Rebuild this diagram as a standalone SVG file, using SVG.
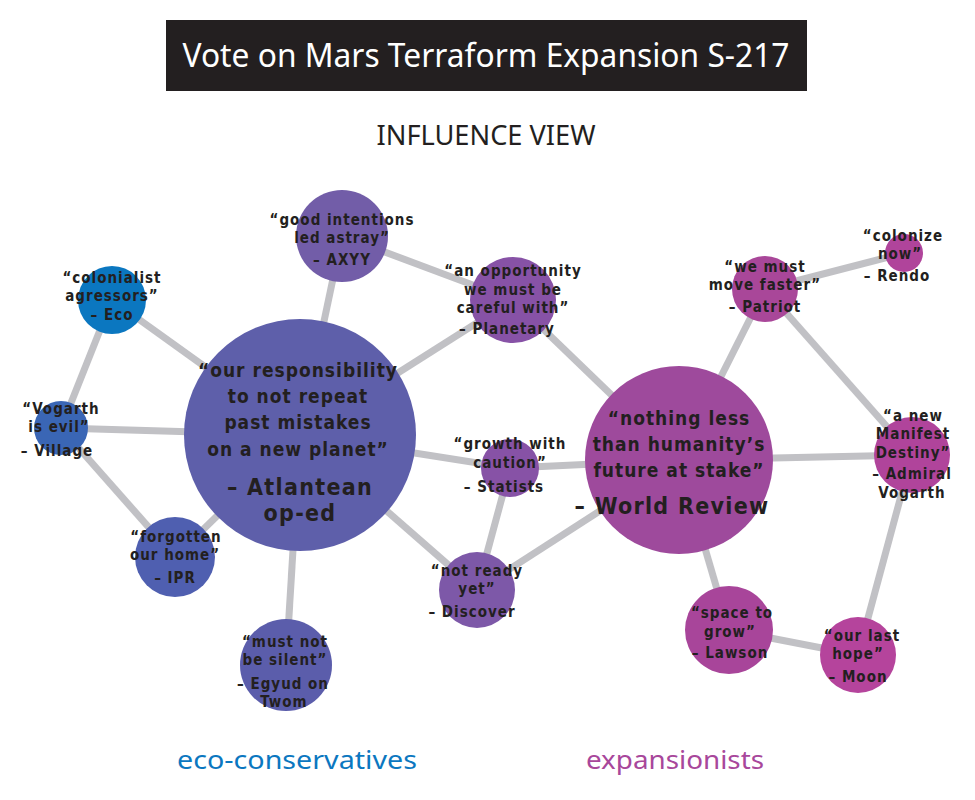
<svg xmlns="http://www.w3.org/2000/svg" width="975" height="800" viewBox="0 0 975 800">
<style>
.edge{stroke:#c1c1c5;stroke-width:7;fill:none}
.t{font-family:"DejaVu Sans Condensed","DejaVu Sans",sans-serif;font-weight:bold;fill:#231f20;text-anchor:middle}
.s{font-size:15px;letter-spacing:1px}
.m{font-size:19px;letter-spacing:1px}
.l{font-size:23px;letter-spacing:1.3px}
</style>
<rect width="975" height="800" fill="#ffffff"/>
<g id="title">
<rect x="166" y="20" width="641" height="71" fill="#231f20"/>
<text x="486" y="67" font-family="'Noto Sans',sans-serif" font-size="32" fill="#ffffff" text-anchor="middle" textLength="607" lengthAdjust="spacingAndGlyphs">Vote on Mars Terraform Expansion S-217</text>
</g>
<g id="subtitle">
<text x="486" y="145" font-family="'Noto Sans',sans-serif" font-size="27" fill="#231f20" text-anchor="middle" textLength="219" lengthAdjust="spacingAndGlyphs">INFLUENCE VIEW</text>
</g>
<g id="connectors">
<line class="edge" x1="112" y1="300" x2="300" y2="435"/>
<line class="edge" x1="112" y1="300" x2="61" y2="428"/>
<line class="edge" x1="61" y1="428" x2="300" y2="435"/>
<line class="edge" x1="61" y1="428" x2="175" y2="557"/>
<line class="edge" x1="175" y1="557" x2="300" y2="435"/>
<line class="edge" x1="300" y1="435" x2="342" y2="236"/>
<line class="edge" x1="300" y1="435" x2="286" y2="665"/>
<line class="edge" x1="300" y1="435" x2="513" y2="300"/>
<line class="edge" x1="300" y1="435" x2="510" y2="468"/>
<line class="edge" x1="300" y1="435" x2="477" y2="590"/>
<line class="edge" x1="342" y1="236" x2="513" y2="300"/>
<line class="edge" x1="513" y1="300" x2="679" y2="460"/>
<line class="edge" x1="510" y1="468" x2="679" y2="460"/>
<line class="edge" x1="510" y1="468" x2="477" y2="590"/>
<line class="edge" x1="477" y1="590" x2="679" y2="460"/>
<line class="edge" x1="679" y1="460" x2="765" y2="289"/>
<line class="edge" x1="679" y1="460" x2="912" y2="455"/>
<line class="edge" x1="679" y1="460" x2="729" y2="630"/>
<line class="edge" x1="765" y1="289" x2="904" y2="253"/>
<line class="edge" x1="765" y1="289" x2="912" y2="455"/>
<line class="edge" x1="912" y1="455" x2="858" y2="655"/>
<line class="edge" x1="729" y1="630" x2="858" y2="655"/>
</g>
<g id="eco">
<circle cx="112" cy="300" r="34" fill="#0b77c0"/>
<text class="t s" x="112" y="283">“colonialist</text>
<text class="t s" x="112" y="301">agressors”</text>
<text class="t s" x="112" y="320">– Eco</text>
</g>
<g id="village">
<circle cx="61" cy="428" r="27" fill="#3a66b5"/>
<text class="t s" x="61" y="414">“Vogarth</text>
<text class="t s" x="59" y="432">is evil”</text>
<text class="t s" x="57" y="456">– Village</text>
</g>
<g id="ipr">
<circle cx="175" cy="557" r="40" fill="#4f5fb0"/>
<text class="t s" x="176" y="542">“forgotten</text>
<text class="t s" x="175" y="560">our home”</text>
<text class="t s" x="175" y="583">– IPR</text>
</g>
<g id="atlantean">
<circle cx="300" cy="435" r="116" fill="#5e5faa"/>
<text class="t m" x="298" y="377">“our responsibility</text>
<text class="t m" x="298" y="403">to not repeat</text>
<text class="t m" x="298" y="429">past mistakes</text>
<text class="t m" x="298" y="456">on a new planet”</text>
<text class="t l" x="300" y="495">– Atlantean</text>
<text class="t l" x="300" y="521">op-ed</text>
</g>
<g id="axyy">
<circle cx="342" cy="236" r="46" fill="#725da8"/>
<text class="t s" x="342" y="225">“good intentions</text>
<text class="t s" x="342" y="243">led astray”</text>
<text class="t s" x="342" y="265">– AXYY</text>
</g>
<g id="egyud">
<circle cx="286" cy="665" r="46" fill="#5b5dab"/>
<text class="t s" x="285" y="647">“must not</text>
<text class="t s" x="285" y="665">be silent”</text>
<text class="t s" x="283" y="689">– Egyud on</text>
<text class="t s" x="284" y="707">Twom</text>
</g>
<g id="planetary">
<circle cx="513" cy="300" r="43" fill="#8752a6"/>
<text class="t s" x="513" y="276">“an opportunity</text>
<text class="t s" x="513" y="295">we must be</text>
<text class="t s" x="513" y="313">careful with”</text>
<text class="t s" x="507" y="334">– Planetary</text>
</g>
<g id="statists">
<circle cx="510" cy="468" r="29" fill="#8752a6"/>
<text class="t s" x="510" y="449">“growth with</text>
<text class="t s" x="510" y="468">caution”</text>
<text class="t s" x="504" y="492">– Statists</text>
</g>
<g id="discover">
<circle cx="477" cy="590" r="38" fill="#7d58a8"/>
<text class="t s" x="477" y="576">“not ready</text>
<text class="t s" x="477" y="594">yet”</text>
<text class="t s" x="472" y="617">– Discover</text>
</g>
<g id="worldreview">
<circle cx="679" cy="460" r="94" fill="#9e4a9c"/>
<text class="t m" x="679" y="425">“nothing less</text>
<text class="t m" x="679" y="451">than humanity’s</text>
<text class="t m" x="679" y="477">future at stake”</text>
<text class="t l" x="672" y="514">– World Review</text>
</g>
<g id="patriot">
<circle cx="765" cy="289" r="33" fill="#a94799"/>
<text class="t s" x="765" y="272">“we must</text>
<text class="t s" x="765" y="290">move faster”</text>
<text class="t s" x="765" y="312">– Patriot</text>
</g>
<g id="rendo">
<circle cx="904" cy="253" r="19" fill="#b0449b"/>
<text class="t s" x="903" y="241">“colonize</text>
<text class="t s" x="900" y="259">now”</text>
<text class="t s" x="897" y="281">– Rendo</text>
</g>
<g id="admiral">
<circle cx="912" cy="455" r="38" fill="#b0449b"/>
<text class="t s" x="913" y="421">“a new</text>
<text class="t s" x="913" y="439">Manifest</text>
<text class="t s" x="913" y="458">Destiny”</text>
<text class="t s" x="912" y="479">– Admiral</text>
<text class="t s" x="912" y="498">Vogarth</text>
</g>
<g id="lawson">
<circle cx="729" cy="630" r="44" fill="#a8459a"/>
<text class="t s" x="732" y="618">“space to</text>
<text class="t s" x="730" y="637">grow”</text>
<text class="t s" x="730" y="658">– Lawson</text>
</g>
<g id="moon">
<circle cx="858" cy="655" r="38" fill="#b5449c"/>
<text class="t s" x="862" y="641">“our last</text>
<text class="t s" x="858" y="659">hope”</text>
<text class="t s" x="858" y="682">– Moon</text>
</g>
<g id="legend">
<text x="297" y="769" font-family="'Noto Sans',sans-serif" font-size="26" fill="#0b77c0" text-anchor="middle" textLength="240" lengthAdjust="spacingAndGlyphs">eco-conservatives</text>
<text x="675" y="769" font-family="'Noto Sans',sans-serif" font-size="26" fill="#a8479b" text-anchor="middle" textLength="178" lengthAdjust="spacingAndGlyphs">expansionists</text>
</g>
</svg>
